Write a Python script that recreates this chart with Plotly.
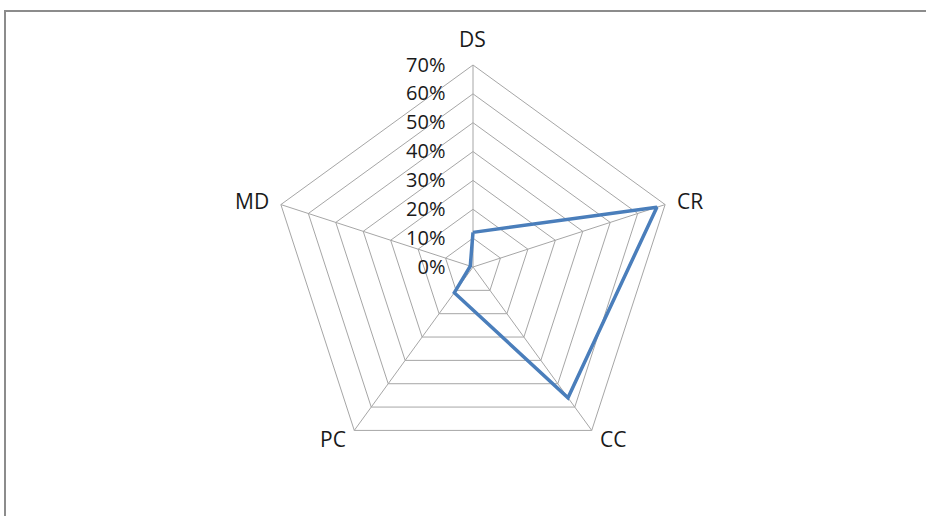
"""Radar chart: share by category."""

import math
import plotly.graph_objects as go

categories = ["DS", "CR", "CC", "PC", "MD"]
values = [0.12, 0.67, 0.56, 0.11, 0.01]
tick_vals = [0, 0.1, 0.2, 0.3, 0.4, 0.5, 0.6, 0.7]
tick_text = ["0%", "10%", "20%", "30%", "40%", "50%", "60%", "70%"]

W, H = 926, 516
cx, cy, rad = 473, 267, 202  # centre and outer radius, in pixels
label_gap = 10

fig = go.Figure(go.Scatterpolar(
    r=values + [values[0]],
    theta=categories + [categories[0]],
    mode="lines",
    line=dict(color="#4a7ebb", width=3.5),
    showlegend=False,
))

# category labels placed just outside each outer vertex (Excel style)
annotations = []
n = len(categories)
for i, cat in enumerate(categories):
    ang = math.radians(90 - 360 / n * i)
    ux, uy = math.cos(ang), math.sin(ang)
    px_ = cx + (rad + label_gap) * ux
    py_ = cy - (rad + label_gap) * uy
    xanchor = "left" if ux > 0.3 else ("right" if ux < -0.3 else "center")
    yanchor = "bottom" if uy > 0.9 else "middle"
    annotations.append(dict(
        text=cat, xref="paper", yref="paper",
        x=px_ / W, y=1 - py_ / H,
        xanchor=xanchor, yanchor=yanchor,
        showarrow=False, font=dict(size=21),
    ))

fig.update_layout(
    width=W,
    height=H,
    paper_bgcolor="white",
    font=dict(family="Open Sans, Liberation Sans, sans-serif", size=21, color="#1a1a1a"),
    margin=dict(l=0, r=0, t=0, b=0),
    polar=dict(
        domain=dict(
            x=[(cx - rad) / W, (cx + rad) / W],
            y=[(H - cy - rad) / H, (H - cy + rad) / H],
        ),
        gridshape="linear",
        bgcolor="white",
        angularaxis=dict(
            rotation=90,
            direction="clockwise",
            categoryorder="array",
            categoryarray=categories,
            showline=True,
            linecolor="#a6a6a6",
            linewidth=1,
            gridcolor="#a6a6a6",
            gridwidth=1,
            ticks="",
            showticklabels=False,
        ),
        radialaxis=dict(
            range=[0, 0.7],
            tickvals=tick_vals,
            ticktext=tick_text,
            angle=90,
            tickangle=90,
            side="counterclockwise",
            showline=False,
            gridcolor="#a6a6a6",
            gridwidth=1,
            ticks="outside",
            ticklen=20,
            tickcolor="rgba(0,0,0,0)",
            tickfont=dict(size=20),
        ),
    ),
    annotations=annotations,
    shapes=[dict(
        type="rect", xref="paper", yref="paper",
        x0=5 / W, x1=1.05, y0=-0.05, y1=(H - 11) / H,
        line=dict(color="#8c8c8c", width=2),
        fillcolor="rgba(0,0,0,0)",
        layer="below",
    )],
)

fig.write_html("out.html", config={"displayModeBar": False},
               post_script="document.body.style.margin='0';")
